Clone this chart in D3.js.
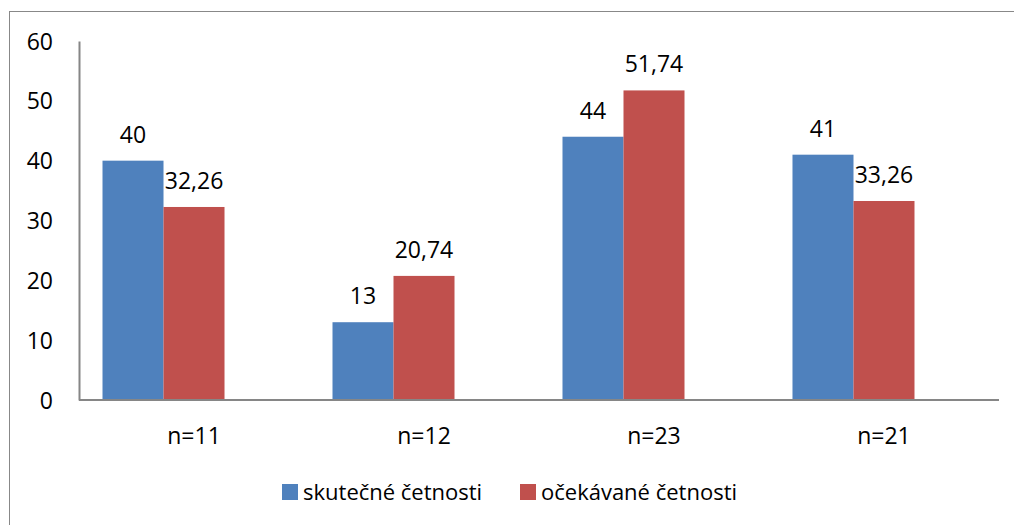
<!DOCTYPE html>
<html lang="cs">
<head>
<meta charset="utf-8">
<title>Četnosti</title>
<script src="https://cdn.jsdelivr.net/npm/d3@7"></script>
<style>
	body { margin: 0; background: #fff; }
	text { font-family: "Open Sans", "Noto Sans", sans-serif; fill: #000; }
	.axis text { font-size: 23px; }
	.label { font-size: 23px; }
	.legend text { font-size: 22px; }
</style>
</head>
<body>
<div class="chart"></div>
<script>
	var categories = ["n=11", "n=12", "n=23", "n=21"];
	var seriesNames = ["skutečné četnosti", "očekávané četnosti"];
	var actual = [40, 13, 44, 41];
	var expected = [32.26, 20.74, 51.74, 33.26];
	var yTicks = [0, 10, 20, 30, 40, 50, 60];
	var colors = ["#4F81BD", "#C0504D"];

	var w = 1014, h = 525;
	var plotLeft = 79, plotRight = 999, plotTop = 41, plotBottom = 400;

	var svg = d3.select("div.chart").append("svg")
		.attr("width", w).attr("height", h);

	// outer frame of the chart (right / bottom edges fall outside the picture)
	svg.append("rect")
		.attr("x", 9.5).attr("y", 11.5)
		.attr("width", 1020).attr("height", 530)
		.attr("fill", "none").attr("stroke", "#888").attr("stroke-width", 1);

	var x0 = d3.scaleBand()
		.domain(categories)
		.range([plotLeft, plotRight])
		.paddingInner(0.2043)
		.paddingOuter(0.1022);

	// the original has a third, empty slot in every group
	var x1 = d3.scaleBand()
		.domain([0, 1, 2])
		.range([0, x0.bandwidth()]);

	var y = d3.scaleLinear().domain([0, 60]).range([plotBottom, plotTop]);

	var rows = categories.map(function(c, i) {
		return { cat: c, values: [actual[i], expected[i]] };
	});

	var fmt = function(v) { return String(v).replace(".", ","); };

	var groups = svg.selectAll("g.grp")
		.data(rows).enter().append("g")
		.attr("class", "grp")
		.attr("transform", function(d) { return "translate(" + x0(d.cat) + ",0)"; });

	groups.selectAll("rect")
		.data(function(d) { return d.values; })
		.enter().append("rect")
		.attr("x", function(d, i) { return x1(i); })
		.attr("y", function(d) { return y(d); })
		.attr("width", x1.bandwidth())
		.attr("height", function(d) { return y(0) - y(d); })
		.attr("fill", function(d, i) { return colors[i]; });

	groups.selectAll("text.label")
		.data(function(d) { return d.values; })
		.enter().append("text")
		.attr("class", "label")
		.attr("x", function(d, i) { return x1(i) + x1.bandwidth() / 2; })
		.attr("y", function(d) { return y(d) - 26; })
		.attr("dy", "0.35em")
		.attr("text-anchor", "middle")
		.text(fmt);

	// y axis
	var yAxis = d3.axisLeft(y).tickValues(yTicks).tickSize(0).tickPadding(26);
	var gy = svg.append("g").attr("class", "axis")
		.attr("transform", "translate(" + plotLeft + ",0)")
		.call(yAxis);
	gy.select(".domain").attr("stroke", "#868686").attr("stroke-width", 2);
	gy.selectAll("text").attr("dy", "0.35em");

	// x axis
	var xAxis = d3.axisBottom(x0).tickSize(0).tickPadding(0).tickSizeOuter(0);
	var gx = svg.append("g").attr("class", "axis")
		.attr("transform", "translate(0," + plotBottom + ")")
		.call(xAxis);
	gx.select(".domain").attr("stroke", "#868686").attr("stroke-width", 2)
		.attr("d", "M" + plotLeft + ",0H" + plotRight);
	gx.selectAll(".tick text")
		.attr("y", 36).attr("dy", "0.35em");

	// legend
	var legendX = [282, 520];
	var legend = svg.append("g").attr("class", "legend");
	var items = legend.selectAll("g").data(seriesNames).enter().append("g")
		.attr("transform", function(d, i) { return "translate(" + legendX[i] + ",484)"; });
	items.append("rect")
		.attr("width", 16).attr("height", 16)
		.attr("fill", function(d, i) { return colors[i]; });
	items.append("text")
		.attr("x", 21).attr("y", 8).attr("dy", "0.35em")
		.text(function(d) { return d; });
</script>
</body>
</html>
